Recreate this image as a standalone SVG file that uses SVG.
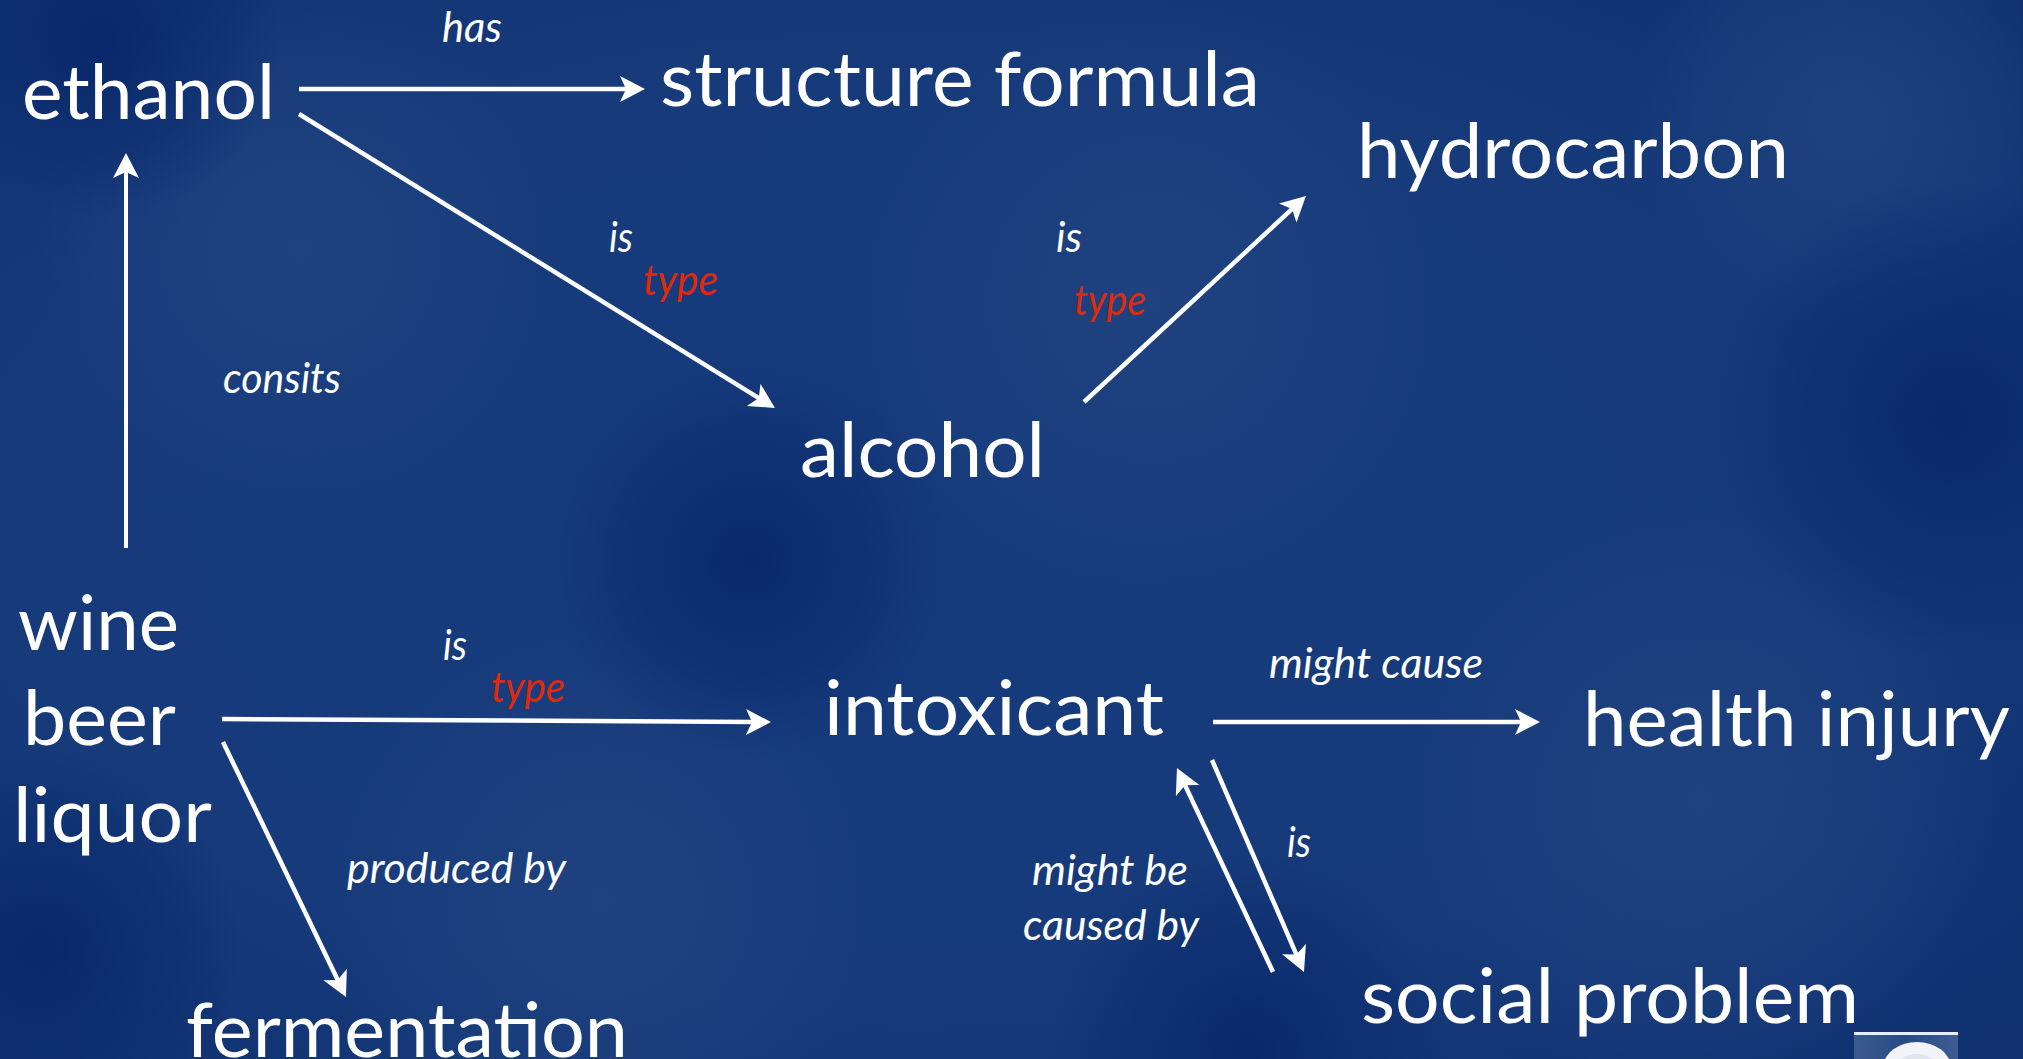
<svg xmlns="http://www.w3.org/2000/svg" width="2023" height="1059" viewBox="0 0 2023 1059">
<defs>
  <radialGradient id="bgGrad" cx="0.45" cy="0.5" r="0.75">
    <stop offset="0" stop-color="#163b7c"/>
    <stop offset="0.6" stop-color="#163a7a"/>
    <stop offset="1" stop-color="#0f2f6e"/>
  </radialGradient>
  <radialGradient id="blobLight" cx="0.5" cy="0.5" r="0.5">
    <stop offset="0" stop-color="#21437f" stop-opacity="0.9"/>
    <stop offset="0.7" stop-color="#1d407f" stop-opacity="0.5"/>
    <stop offset="1" stop-color="#1d407f" stop-opacity="0"/>
  </radialGradient>
  <radialGradient id="blobDark" cx="0.5" cy="0.5" r="0.5">
    <stop offset="0" stop-color="#07266a" stop-opacity="0.9"/>
    <stop offset="0.6" stop-color="#0a2a6c" stop-opacity="0.5"/>
    <stop offset="1" stop-color="#0a2a6c" stop-opacity="0"/>
  </radialGradient>
  <linearGradient id="iconGrad" x1="0" y1="0" x2="1" y2="0">
    <stop offset="0" stop-color="#3a5a90"/>
    <stop offset="0.5" stop-color="#2a4a84"/>
    <stop offset="1" stop-color="#3c5c92"/>
  </linearGradient>
  <marker id="arrow" markerUnits="userSpaceOnUse" markerWidth="30" markerHeight="30" refX="8" refY="13" orient="auto">
    <path d="M0,0 L25,13 L0,26 L6,13 Z" fill="#ffffff"/>
  </marker>
  <style>
    .node { font-family: Lato, "Open Sans", "Noto Sans", sans-serif; font-size: 76px; fill: #ffffff; }
    .lbl { font-family: Lato, "Open Sans", "Noto Sans", sans-serif; font-size: 42px; font-style: italic; fill: #ffffff; }
    .red { fill: #dd2a0c; }
    .edge { stroke: #ffffff; stroke-width: 4.5; fill: none; marker-end: url(#arrow); }
  </style>
</defs>

<g id="background">
  <rect x="0" y="0" width="2023" height="1059" fill="url(#bgGrad)"/>
  <circle cx="300" cy="250" r="260" fill="url(#blobLight)"/>
  <circle cx="1150" cy="300" r="300" fill="url(#blobLight)"/>
  <circle cx="1850" cy="120" r="220" fill="url(#blobLight)"/>
  <circle cx="600" cy="900" r="280" fill="url(#blobLight)"/>
  <circle cx="1700" cy="800" r="300" fill="url(#blobLight)"/>
  <circle cx="750" cy="560" r="200" fill="url(#blobDark)"/>
  <circle cx="1950" cy="420" r="240" fill="url(#blobDark)"/>
  <circle cx="40" cy="950" r="200" fill="url(#blobDark)"/>
  <circle cx="100" cy="40" r="180" fill="url(#blobDark)"/>
  <circle cx="1250" cy="1050" r="200" fill="url(#blobDark)"/>
</g>

<g id="connectors">
  <line id="e-has" class="edge" x1="299" y1="89" x2="628" y2="89"/>
  <line id="e-ethanol-alcohol" class="edge" x1="299" y1="114" x2="760.5" y2="399.1"/>
  <line id="e-alcohol-hydrocarbon" class="edge" x1="1084" y1="402" x2="1293.5" y2="207.6"/>
  <line id="e-consits" class="edge" style="stroke-width:4" x1="126" y1="548" x2="126" y2="170"/>
  <line id="e-beer-intoxicant" class="edge" x1="222" y1="719" x2="754" y2="722"/>
  <line id="e-produced" class="edge" x1="223" y1="742" x2="338.6" y2="981.7"/>
  <line id="e-might-cause" class="edge" x1="1213" y1="722" x2="1523" y2="722"/>
  <line id="e-is-social" class="edge" x1="1212" y1="760" x2="1297.2" y2="956.4"/>
  <line id="e-caused-by" class="edge" x1="1273" y1="972" x2="1184.2" y2="783.4"/>

  <text class="lbl" x="442" y="42" textLength="60" lengthAdjust="spacingAndGlyphs">has</text>
  <text class="lbl" x="609" y="252" textLength="24" lengthAdjust="spacingAndGlyphs">is</text>
  <text class="lbl red" x="643" y="295" textLength="75" lengthAdjust="spacingAndGlyphs">type</text>
  <text class="lbl" x="1056" y="252" textLength="26" lengthAdjust="spacingAndGlyphs">is</text>
  <text class="lbl red" x="1074" y="315" textLength="72" lengthAdjust="spacingAndGlyphs">type</text>
  <text class="lbl" x="223" y="393" textLength="118" lengthAdjust="spacingAndGlyphs">consits</text>
  <text class="lbl" x="443" y="660" textLength="24" lengthAdjust="spacingAndGlyphs">is</text>
  <text class="lbl red" x="491" y="702" textLength="74" lengthAdjust="spacingAndGlyphs">type</text>
  <text class="lbl" x="347" y="883" textLength="219" lengthAdjust="spacingAndGlyphs">produced by</text>
  <text class="lbl" x="1269" y="678" textLength="214" lengthAdjust="spacingAndGlyphs">might cause</text>
  <text class="lbl" x="1032" y="885" textLength="156" lengthAdjust="spacingAndGlyphs">might be</text>
  <text class="lbl" x="1023" y="940" textLength="176" lengthAdjust="spacingAndGlyphs">caused by</text>
  <text class="lbl" x="1287" y="857" textLength="24" lengthAdjust="spacingAndGlyphs">is</text>
</g>

<g id="node-ethanol"><text class="node" x="22" y="119" textLength="253" lengthAdjust="spacingAndGlyphs">ethanol</text></g>
<g id="node-structure-formula"><text class="node" x="660" y="106" textLength="600" lengthAdjust="spacingAndGlyphs">structure formula</text></g>
<g id="node-hydrocarbon"><text class="node" x="1357" y="178" textLength="432" lengthAdjust="spacingAndGlyphs">hydrocarbon</text></g>
<g id="node-alcohol"><text class="node" x="800" y="477" textLength="245" lengthAdjust="spacingAndGlyphs">alcohol</text></g>
<g id="node-wine-beer-liquor">
  <text class="node" x="18" y="650" textLength="161" lengthAdjust="spacingAndGlyphs">wine</text>
  <text class="node" x="23" y="745" textLength="153" lengthAdjust="spacingAndGlyphs">beer</text>
  <text class="node" x="13" y="842" textLength="199" lengthAdjust="spacingAndGlyphs">liquor</text>
</g>
<g id="node-intoxicant"><text class="node" x="824" y="735" textLength="340" lengthAdjust="spacingAndGlyphs">intoxicant</text></g>
<g id="node-health-injury"><text class="node" x="1583" y="746" textLength="427" lengthAdjust="spacingAndGlyphs">health injury</text></g>
<g id="node-social-problem"><text class="node" x="1361" y="1023" textLength="498" lengthAdjust="spacingAndGlyphs">social problem</text></g>
<g id="node-fermentation"><text class="node" x="186" y="1057" textLength="442" lengthAdjust="spacingAndGlyphs">fermentation</text></g>

<g id="corner-icon">
  <rect x="1854" y="1032" width="104" height="27" fill="url(#iconGrad)"/>
  <rect x="1854" y="1032" width="104" height="3" fill="#e8eef8"/>
  <ellipse cx="1917" cy="1068" rx="34" ry="26" fill="#f2f4f8"/>
  <ellipse cx="1917" cy="1070" rx="22" ry="16" fill="#dfe4ee"/>
</g>
</svg>
